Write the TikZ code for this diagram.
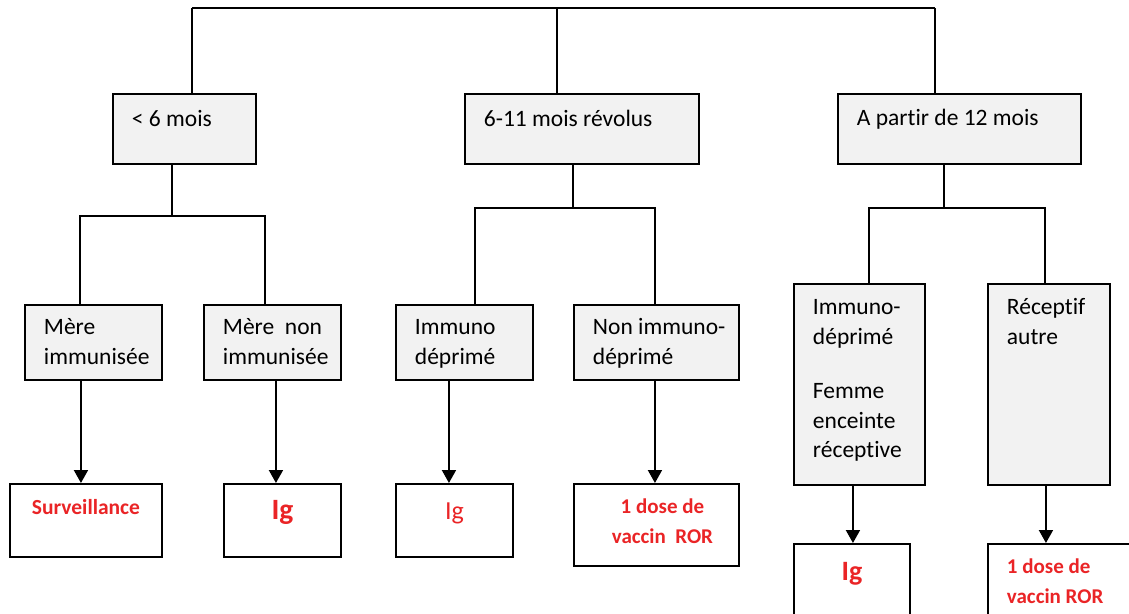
\documentclass[tikz,border=0pt]{standalone}
\usepackage{fontspec}
\setmainfont{Carlito}[Ligatures=NoCommon]
\usepackage{xcolor}
\usetikzlibrary{positioning,arrows.meta}

\definecolor{cellgrey}{HTML}{F2F2F2}
\definecolor{advice}{RGB}{234,36,38}

% box text: width, height, first baseline, text
\newcommand{\celltext}[4]{\parbox[c][#2pt][t]{#1pt}{\raggedright\leftskip=19pt\rule{0pt}{#3pt}#4}}
\newcommand{\cellmid}[4]{\parbox[c][#2pt][t]{#1pt}{\centering\rule{0pt}{#3pt}#4}}

\begin{document}
\begin{tikzpicture}[
    x=1pt, y=-1pt,
    >={Triangle[width=14pt,length=13pt]},
    line width=1.9pt,
    font=\fontsize{23.5}{29.5}\selectfont
]

\tikzstyle{cell}=[
    draw,
    inner sep=0pt,
    anchor=north west
]
\tikzstyle{grey}=[cell, fill=cellgrey]
\tikzstyle{result}=[cell, fill=white, text=advice, font=\bfseries]

\clip (0,0) rectangle (1129,613);

% age groups
\node[grey] (b1) at (112,93) {\celltext{143}{70}{33}{< 6 mois}};
\node[grey] (b2) at (464,93) {\celltext{234}{70}{33}{6-11 mois révolus}};
\node[grey] (b3) at (837,93) {\celltext{243}{70}{32}{A partir de 12 mois}};

% situations
\node[grey] (c1) at (24,304) {\celltext{137}{75}{30}{Mère\\immunisée}};
\node[grey] (c2) at (203,304) {\celltext{137}{75}{30}{Mère~ non\\immunisée}};
\node[grey] (c3) at (395,304) {\celltext{137}{75}{30}{Immuno\\déprimé}};
\node[grey] (c4) at (573,304) {\celltext{165}{75}{30}{Non immuno-\\déprimé}};
\node[grey] (c5) at (793,283) {\celltext{131}{201}{31}{Immuno-\\déprimé\\[25pt]Femme\\enceinte\\réceptive}};
\node[grey] (c6) at (987,283) {\celltext{122}{201}{31}{Réceptif\\autre}};

% measures
\node[result] (r1) at (9,483) {\fontsize{21.5}{29.5}\selectfont\cellmid{152}{73}{31}{Surveillance}};
\node[result] (r2) at (223,483) {\fontsize{29.5}{30}\selectfont\cellmid{117}{73}{36}{Ig}};
\node[result, font=\mdseries] (r3) at (395,483) {\fontsize{26}{30}\selectfont\cellmid{117}{73}{36}{Ig}};
\node[result] (r4) at (573,483) {\fontsize{21}{30}\selectfont\cellmid{165}{82}{30}{\hspace*{12pt}1 dose de\\\hspace*{12pt}vaccin~ ROR}};
\node[result] (r5) at (793,543) {\fontsize{28}{30}\selectfont\cellmid{116}{90}{37}{Ig}};
\node[result] (r6) at (987,543) {\fontsize{21}{30}\selectfont\celltext{150}{90}{30}{1 dose de\\vaccin ROR}};

% top bar
\coordinate (t1) at (192,8);
\coordinate (t2) at (557,8);
\coordinate (t3) at (935,8);
\draw (t1) -- (t3);
\draw (t1) -- (t1 |- b1.north);
\draw (t2) -- (t2 |- b2.north);
\draw (t3) -- (t3 |- b3.north);

% forks
\coordinate (s1) at (172,216);
\coordinate (s1l) at (80,216);
\coordinate (s1r) at (265,216);
\coordinate (s2) at (573,208);
\coordinate (s2l) at (475,208);
\coordinate (s2r) at (655,208);
\coordinate (s3) at (944,208);
\coordinate (s3l) at (869,208);
\coordinate (s3r) at (1045,208);

\draw (s1 |- b1.south) -- (s1);
\draw (s1l |- c1.north) -- (s1l) -- (s1r) -- (s1r |- c2.north);
\draw (s2 |- b2.south) -- (s2);
\draw (s2l |- c3.north) -- (s2l) -- (s2r) -- (s2r |- c4.north);
\draw (s3 |- b3.south) -- (s3);
\draw (s3l |- c5.north) -- (s3l) -- (s3r) -- (s3r |- c6.north);

% arrows
\foreach \from/\to/\dx in {c1/r1/-12.5, c2/r2/3.5, c3/r3/-15.5, c4/r4/-1.5, c5/r5/-6.5, c6/r6/-3}
    \draw[->] ([xshift=\dx pt]\from.south) -- ([xshift=\dx pt]\from.south |- \to.north);

\end{tikzpicture}
\end{document}
